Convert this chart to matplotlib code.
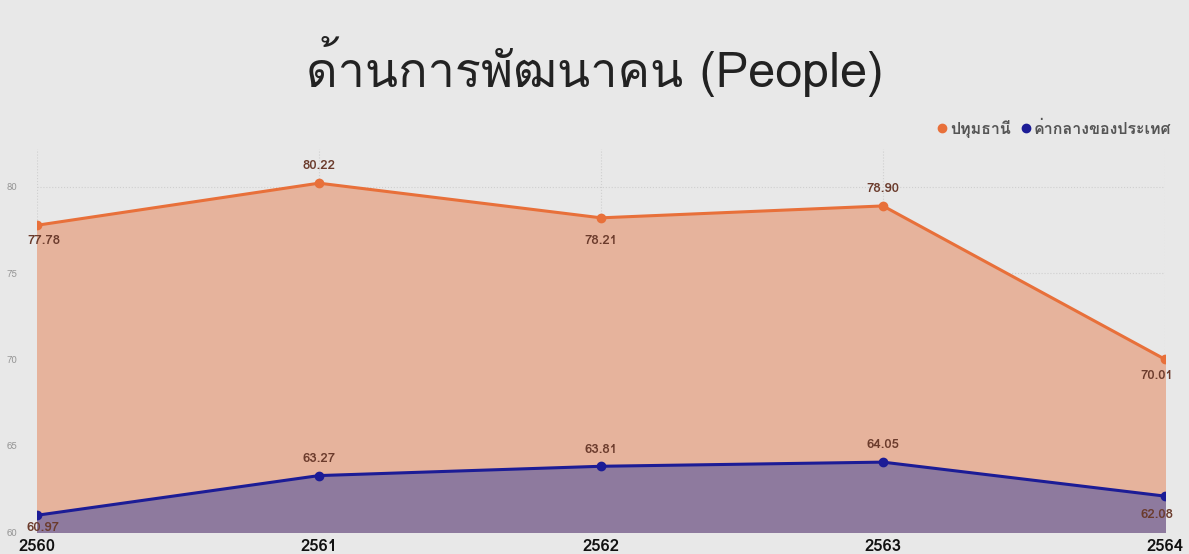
import matplotlib
matplotlib.use('Agg')
import matplotlib.pyplot as plt
from matplotlib import font_manager
from matplotlib.ft2font import FT2Font
from matplotlib.lines import Line2D

# pick an installed font that has thai glyphs
thai_font = None
for f in font_manager.fontManager.ttflist:
    try:
        if ord('ด') in FT2Font(f.fname).get_charmap():
            thai_font = f.name
            break
    except Exception:
        pass
fams = ['DejaVu Sans']
if thai_font:
    fams = [thai_font, 'DejaVu Sans']
plt.rcParams['font.family'] = fams

years = ['2560', '2561', '2562', '2563', '2564']
pathum = [77.78, 80.22, 78.21, 78.90, 70.01]
national = [60.97, 63.27, 63.81, 64.05, 62.08]

# label offsets in pixels (dx, dy), up is positive
pathum_off = [(7, -16), (0, 17), (0, -23), (0, 17), (-8, -17)]
national_off = [(6, -13), (0, 17), (0, 16), (0, 17), (-8, -19)]

bg = '#e8e8e8'
orange = '#e8703a'
navy = '#1c1c96'
lbl = '#6b3b2c'

fig = plt.figure(figsize=(11.89, 5.54), dpi=100, facecolor=bg)
ax = fig.add_axes([37/1189, 1-532/554, (1165-37)/1189, (532-149)/554])
ax.set_facecolor(bg)
x = list(range(len(years)))

ax.fill_between(x, 60, pathum, color='#e6b39c', zorder=1)
ax.fill_between(x, 60, national, color='#8e7a9e', zorder=2)
ax.plot(x, pathum, color=orange, lw=2.2, marker='o', ms=6, zorder=4)
ax.plot(x, national, color=navy, lw=2.2, marker='o', ms=6, zorder=4)

pt = 0.72  # px -> points at 100 dpi
for series, offs in [(pathum, pathum_off), (national, national_off)]:
    for xi, v, (dx, dy) in zip(x, series, offs):
        ax.annotate('%.2f' % v, (xi, v), xytext=(dx*pt, dy*pt), textcoords='offset points',
                    ha='center', va='center', fontsize=9.5, fontweight='bold',
                    color=lbl, zorder=5, annotation_clip=False)

ax.set_xlim(0, 4)
ax.set_ylim(60, 82.2)
ax.set_yticks([60, 65, 70, 75, 80])
ax.set_xticks(x)
ax.set_xticklabels(years, fontsize=12, fontweight='bold', color='#111111')
ax.tick_params(axis='y', labelsize=7, colors='#999999', length=0, pad=14)
ax.tick_params(axis='x', length=0, pad=5)
ax.grid(True, linestyle=':', color='#cfcfcf', lw=0.8, zorder=0)
ax.set_axisbelow(True)
for s in ax.spines.values():
    s.set_visible(False)

fig.text(0.5, 0.88, 'ด้านการพัฒนาคน (People)', ha='center', va='center',
         fontsize=35, color='#222222')

handles = [Line2D([], [], ls='', marker='o', ms=6, color=orange),
           Line2D([], [], ls='', marker='o', ms=6, color=navy)]
fig.legend(handles, ['ปทุมธานี', 'ค่ากลางของประเทศ'], loc='center right',
           bbox_to_anchor=(0.997, 0.768), ncol=2, frameon=False, handletextpad=0.1,
           columnspacing=0.5, handlelength=0.8, prop={'size': 11.5, 'weight': 'bold'},
           labelcolor='#555555')

fig.savefig('out.png', dpi=100, facecolor=bg)
